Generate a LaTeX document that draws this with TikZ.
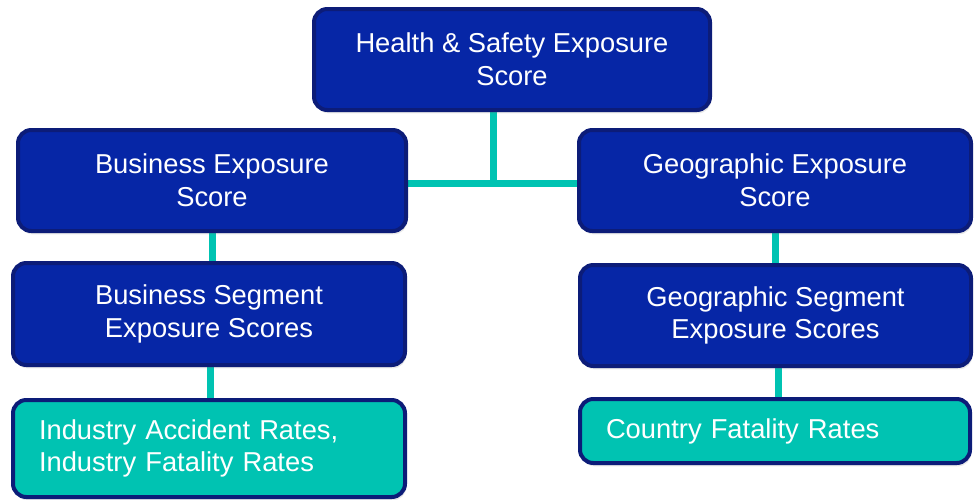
\documentclass[tikz,border=0pt]{standalone}
\usepackage{fontspec}
\setmainfont{Liberation Sans}
\usetikzlibrary{backgrounds,shadows}
\definecolor{boxblue}{RGB}{6,38,166}
\definecolor{boxedge}{RGB}{12,28,120}
\definecolor{teal}{RGB}{0,195,178}
\tikzset{
  base/.style={draw=boxedge, line width=3pt, rounded corners=10pt,
    text=white, font=\fontsize{20.5pt}{24.5pt}\selectfont,
    drop shadow={opacity=0.18, shadow xshift=1pt, shadow yshift=-2.5pt}},
  scorebox/.style={base, fill=boxblue, align=center, inner sep=0pt},
  ratebox/.style={base, fill=teal, align=left, inner xsep=19.5pt, inner ysep=0pt},
  conn/.style={draw=teal, line width=5.25pt}
}
\begin{document}
\begin{tikzpicture}[x=0.75pt, y=-0.75pt]
  \useasboundingbox (0,0) rectangle (976,500);

  \node[scorebox, minimum width=297pt, minimum height=75.75pt] (top) at (512,59.5)
    {Health \& Safety Exposure\\Score};
  \node[scorebox, minimum width=291pt, minimum height=75.75pt] (bexp) at (212,180.5)
    {Business Exposure\\Score};
  \node[scorebox, minimum width=294pt, minimum height=75.75pt] (gexp) at (775,180.5)
    {Geographic Exposure\\Score};
  \node[scorebox, minimum width=294pt, minimum height=76.5pt] (bseg) at (209,314)
    {Business Segment\\Exposure Scores};
  \node[scorebox, minimum width=293.25pt, minimum height=75.75pt] (gseg) at (775.5,315.5)
    {Geographic Segment\\Exposure Scores};
  \node[ratebox, text width=255pt, minimum height=72.75pt] (ind) at (209,448.5)
    {Industry Accident Rates,\\Industry Fatality Rates};
  \node[ratebox, text width=253.5pt, minimum height=48pt] (cty) at (775,431)
    {Country Fatality Rates};

  \coordinate (j) at (493,183);

  \begin{scope}[on background layer]
    \draw[conn] (j |- top.south) -- (j);
    \draw[conn] (bexp.east |- j) -- (gexp.west |- j);
    \draw[conn] (bexp.south) -- (bexp.south |- bseg.north);
    \draw[conn] ([xshift=0.75pt]bseg.south) -- ([xshift=0.75pt]bseg.south |- ind.north);
    \draw[conn] (gexp.south) -- (gexp.south |- gseg.north);
    \draw[conn] ([xshift=2.5pt]gseg.south) -- ([xshift=2.5pt]gseg.south |- cty.north);
  \end{scope}
\end{tikzpicture}
\end{document}
